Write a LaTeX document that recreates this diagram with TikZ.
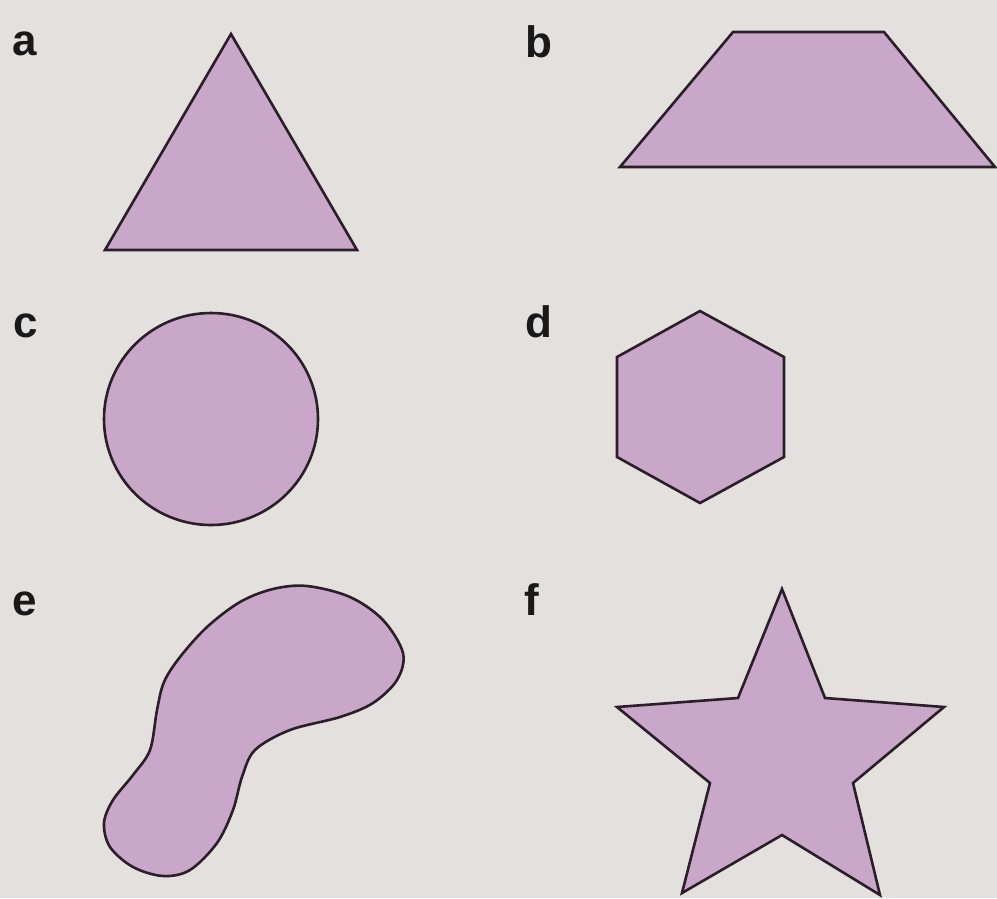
\documentclass[tikz,border=0pt]{standalone}
\usepackage{fontspec}
\setmainfont{Liberation Sans}
\definecolor{bgc}{HTML}{E4E0DD}
\definecolor{shapefill}{HTML}{C8A7C8}
\definecolor{edgec}{HTML}{2A1E28}
\begin{document}
\begin{tikzpicture}[x=1pt,y=-1pt,
  shp/.style={fill=shapefill,draw=edgec,line width=2.6pt,line join=miter},
  lbl/.style={anchor=base west,inner sep=0pt,font=\fontsize{44}{48}\selectfont\bfseries,text=black!90}]
\fill[bgc] (0,0) rectangle (997,898);
\useasboundingbox (0,0) rectangle (997,898);
% labels
\node[lbl] (la) at (12,55) {a};
\node[lbl] (lb) at (525,57) {b};
\node[lbl] (lc) at (13,337) {c};
\node[lbl] (ld) at (525,337) {d};
\node[lbl] (le) at (12,615) {e};
\node[lbl] (lf) at (524,615) {f};
% a triangle
\draw[shp] (231,34) -- (357,250) -- (105,250) -- cycle;
% b trapezoid
\draw[shp] (620,167) -- (733,32) -- (884,32) -- (995,167) -- cycle;
% c circle
\draw[shp] (211,419) ellipse (107 and 106);
% d hexagon
\draw[shp] (700,311) -- (784,357) -- (784,457) -- (700,503) -- (617,457) -- (617,357) -- cycle;
% e blob
\draw[shp] plot[smooth cycle,tension=0.55] coordinates {
  (307,586) (350,597) (383,620) (403,653) (397,680) (373,703) (340,717)
  (290,730) (255,750) (242,777) (233,810) (217,843) (190,870) (163,876)
  (133,867) (110,847) (104,823) (113,800) (133,775) (150,750) (157,710)
  (164,682) (180,657) (207,627) (240,602) (273,589)};
% f star
\draw[shp] (782,589) -- (825,698) -- (944,707) -- (853,783) -- (880,895)
  -- (782,835) -- (682,893) -- (710,783) -- (617,707) -- (738,698) -- cycle;
\end{tikzpicture}
\end{document}
